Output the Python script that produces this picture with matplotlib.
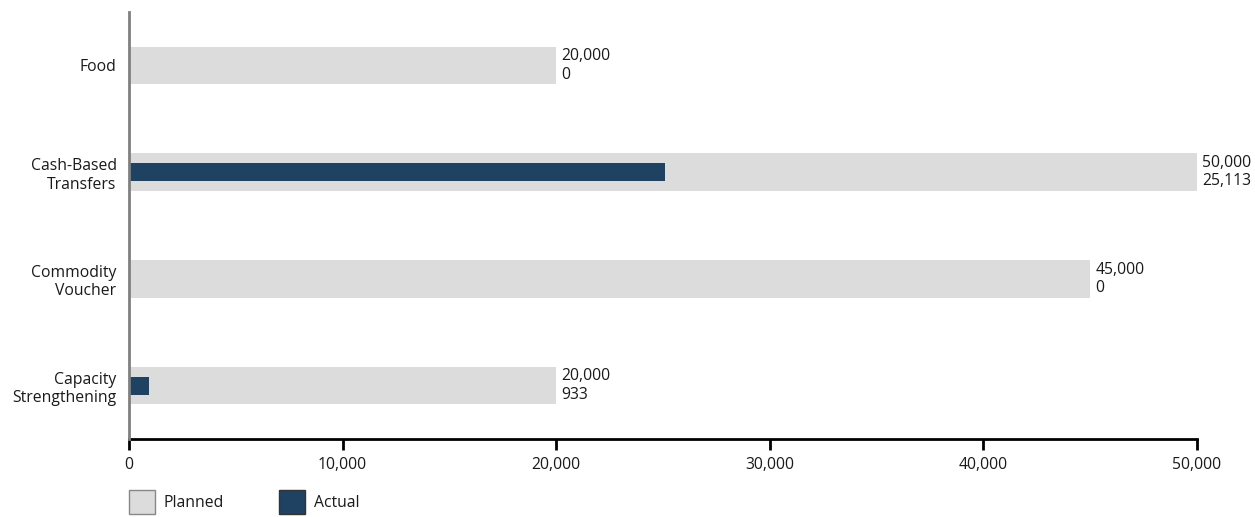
import matplotlib.pyplot as plt
from matplotlib.patches import Patch

plt.rcParams['font.family'] = ['Open Sans', 'DejaVu Sans']

categories = ['Food', 'Cash-Based\nTransfers', 'Commodity\nVoucher', 'Capacity\nStrengthening']
planned = [20000, 50000, 45000, 20000]
actual = [0, 25113, 0, 933]
xticks = [0, 10000, 20000, 30000, 40000, 50000]

planned_color = '#dcdcdc'
actual_color = '#1f4263'
text_color = '#1a1a1a'
fs = 11.3

fig = plt.figure(figsize=(12.55, 5.17), dpi=100)
ax = fig.add_axes([129 / 1255, 1 - 439 / 517, (1197 - 129) / 1255, 427 / 517])

pos = list(range(len(categories)))
ax.barh(pos, planned, height=0.35, color=planned_color, zorder=1)
ax.barh(pos, actual, height=0.17, color=actual_color, zorder=2)

for y, p, a in zip(pos, planned, actual):
    ax.annotate(f'{p:,}\n{a:,}', xy=(p, y), xytext=(5, 0), textcoords='offset pixels',
                va='center', ha='left', fontsize=fs, color=text_color, linespacing=1.2)

ax.set_ylim(3.5, -0.5)
ax.set_xlim(0, 50000)
ax.set_yticks(pos)
ax.set_yticklabels(categories, fontsize=fs, color=text_color)
ax.tick_params(axis='y', length=0, pad=9)
ax.set_xticks(xticks)
ax.set_xticklabels([f'{v:,}' for v in xticks], fontsize=fs, color=text_color)
ax.tick_params(axis='x', length=8, width=2, color='black', pad=5)

for s in ['top', 'right']:
    ax.spines[s].set_visible(False)
ax.spines['left'].set_color('#808080')
ax.spines['left'].set_linewidth(2)
ax.spines['bottom'].set_color('black')
ax.spines['bottom'].set_linewidth(2)
ax.spines['left'].set_zorder(3)

handles = [Patch(facecolor=planned_color, edgecolor='#888888', label='Planned'),
           Patch(facecolor=actual_color, edgecolor='#333333', label='Actual')]
fig.legend(handles=handles, loc='upper left', bbox_to_anchor=(129 / 1255, 1 - 490 / 517),
           ncol=2, frameon=False, fontsize=fs, handlelength=1.65, handleheight=1.95,
           handletextpad=0.57, columnspacing=3.5, borderpad=0, borderaxespad=0,
           labelcolor=text_color)

fig.savefig('out.png', dpi=100)
